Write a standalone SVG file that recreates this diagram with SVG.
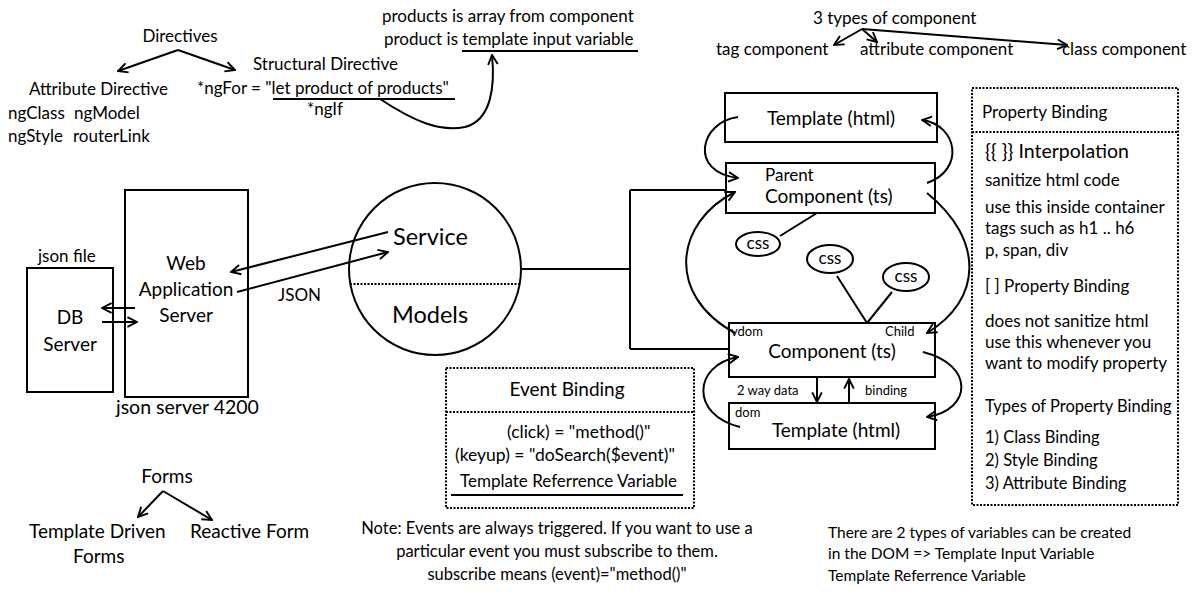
<svg xmlns="http://www.w3.org/2000/svg" width="1200" height="600" viewBox="0 0 1200 600">
<style>
text{font-family:Lato,"Liberation Sans",sans-serif;fill:#000}
.s13{font-size:13px}.s155{font-size:15.5px}.s165{font-size:16.5px}.s17{font-size:17px}.s175{font-size:17.5px}.s19{font-size:19px}.s195{font-size:19.5px}.s23{font-size:23.5px}
.m{text-anchor:middle}
.box{fill:#fff;stroke:#000;stroke-width:2}
.dot{fill:none;stroke:#000;stroke-width:2;stroke-dasharray:2 1.5}
.ln{fill:none;stroke:#000;stroke-width:2}
.ar{fill:none;stroke:#000;stroke-width:2;marker-end:url(#ah)}
</style>
<defs>
<marker id="ah" viewBox="0 0 10 10" refX="9" refY="5" markerWidth="6" markerHeight="6" orient="auto" markerUnits="strokeWidth">
<path d="M1,1 L9,5 L1,9" fill="none" stroke="#000" stroke-width="1.6"/>
</marker>
</defs>
<rect width="1200" height="600" fill="#fff"/>

<g id="directives">
<text class="s17 m" x="180" y="42">Directives</text>
<text class="s17" x="29" y="95">Attribute Directive</text>
<text class="s17" x="8" y="119">ngClass</text>
<text class="s17" x="74" y="119">ngModel</text>
<text class="s17" x="8" y="142">ngStyle</text>
<text class="s17" x="73" y="142">routerLink</text>
<text class="s17" x="253" y="70">Structural Directive</text>
<text class="s17" x="197" y="94">*ngFor = "let product of products"</text>
<text class="s17" x="307" y="115">*ngIf</text>
<text class="s17" x="382" y="22">products is array from component</text>
<text class="s17" x="384" y="45">product is template input variable</text>
</g>

<g id="components-types">
<text class="s17" x="813" y="24">3 types of component</text>
<text class="s17" x="716" y="55">tag component</text>
<text class="s17" x="860" y="55">attribute component</text>
<text class="s17" x="1062" y="55">class component</text>
</g>

<g id="db-server">
<text class="s17" x="38" y="262">json file</text>
<rect class="box" x="27" y="268" width="86" height="124"/>
<text class="s19 m" x="70" y="324">DB</text>
<text class="s19 m" x="70" y="351">Server</text>
</g>

<g id="web-server">
<rect class="box" x="125" y="190" width="123" height="207"/>
<text class="s19 m" x="186" y="270">Web</text>
<text class="s19 m" x="186" y="296">Application</text>
<text class="s19 m" x="186" y="322">Server</text>
<text class="s195" x="116" y="414">json server 4200</text>
</g>

<g id="service">
<circle cx="435" cy="269" r="86" fill="none" stroke="#000" stroke-width="2"/>
<line class="dot" x1="350" y1="284" x2="521" y2="284"/>
<text class="s23" x="393" y="245">Service</text>
<text class="s23" x="392" y="323">Models</text>
</g>

<g id="template-top">
<rect class="box" x="725" y="93" width="212" height="49"/>
<text class="s19 m" x="831" y="125">Template (html)</text>
</g>

<g id="parent-component">
<rect class="box" x="726" y="163" width="209" height="50"/>
<text class="s17" x="765" y="181">Parent</text>
<text class="s19" x="765" y="203">Component (ts)</text>
</g>

<g id="css1">
<ellipse cx="758" cy="244" rx="22" ry="12" fill="#fff" stroke="#000" stroke-width="2"/>
<text class="s17 m" x="758" y="249">css</text>
</g>
<g id="css2">
<ellipse cx="830" cy="259" rx="23" ry="14" fill="#fff" stroke="#000" stroke-width="2"/>
<text class="s17 m" x="830" y="264">css</text>
</g>
<g id="css3">
<ellipse cx="906" cy="277" rx="23" ry="14" fill="#fff" stroke="#000" stroke-width="2"/>
<text class="s17 m" x="906" y="282">css</text>
</g>

<g id="child-component">
<rect class="box" x="729" y="323" width="206" height="54"/>
<text class="s13" x="731" y="336">vdom</text>
<text class="s13" x="885" y="336">Child</text>
<text class="s19 m" x="832" y="358">Component (ts)</text>
</g>

<g id="template-bottom">
<rect class="box" x="729" y="403" width="206" height="46"/>
<text class="s13" x="735" y="417">dom</text>
<text class="s19 m" x="836" y="437">Template (html)</text>
</g>

<g id="property-binding">
<rect class="dot" x="972" y="88" width="206" height="417"/>
<line class="dot" x1="972" y1="132" x2="1178" y2="132"/>
<text class="s17" x="982" y="118">Property Binding</text>
<text class="s195" x="985" y="158">{{ }} Interpolation</text>
<text class="s17" x="985" y="186">sanitize html code</text>
<text class="s17" x="985" y="213">use this inside container</text>
<text class="s17" x="985" y="234">tags such as h1 .. h6</text>
<text class="s17" x="985" y="256">p, span, div</text>
<text class="s17" x="985" y="292">[ ] Property Binding</text>
<text class="s17" x="985" y="327">does not sanitize html</text>
<text class="s17" x="985" y="348">use this whenever you</text>
<text class="s17" x="985" y="369">want to modify property</text>
<text class="s165" x="985" y="412">Types of Property Binding</text>
<text class="s165" x="985" y="443">1) Class Binding</text>
<text class="s165" x="985" y="466">2) Style Binding</text>
<text class="s165" x="985" y="489">3) Attribute Binding</text>
</g>

<g id="event-binding">
<rect class="dot" x="446" y="368" width="248" height="140"/>
<line class="dot" x1="446" y1="412" x2="694" y2="412"/>
<text class="s19 m" x="567" y="396">Event Binding</text>
<text class="s175" x="507" y="438">(click) = "method()"</text>
<text class="s175" x="455" y="461">(keyup) = "doSearch($event)"</text>
<text class="s17" x="460" y="487">Template Referrence Variable</text>
<line class="ln" x1="451" y1="495" x2="683" y2="495"/>
</g>

<g id="note">
<text class="s165 m" x="557" y="534">Note: Events are always triggered. If you want to use a</text>
<text class="s165 m" x="557" y="557">particular event you must subscribe to them.</text>
<text class="s165 m" x="557" y="580">subscribe means (event)="method()"</text>
</g>

<g id="forms">
<text class="s19 m" x="167" y="483">Forms</text>
<text class="s19" x="29" y="538">Template Driven</text>
<text class="s19" x="73" y="563">Forms</text>
<text class="s19" x="190" y="538">Reactive Form</text>
</g>

<g id="variables-note">
<text class="s155" x="828" y="538">There are 2 types of variables can be created</text>
<text class="s155" x="828" y="559">in the DOM =&gt; Template Input Variable</text>
<text class="s155" x="828" y="581">Template Referrence Variable</text>
</g>

<g id="connectors">
<path class="ar" d="M178,50 L118,71"/>
<path class="ar" d="M178,50 L235,70"/>
<line class="ln" x1="273" y1="99" x2="455" y2="99"/>
<line class="ln" x1="462" y1="51" x2="638" y2="51"/>
<path class="ar" d="M380,99 C415,122 440,132 465,127 C492,120 495,85 492,55"/>
<path class="ar" d="M862,29 L834,45"/>
<path class="ar" d="M862,29 L877,42"/>
<path class="ar" d="M862,29 L1067,45"/>
<path class="ar" d="M135,308 L102,308"/>
<path class="ar" d="M102,322 L137,322"/>
<path class="ar" d="M388,232 L231,272"/>
<path class="ar" d="M237,292 L388,252"/>
<text class="s17" x="278" y="301">JSON</text>
<path class="ln" d="M521,269 H630 M630,190 V349 M630,190 H726 M630,349 H729"/>
<path class="ar" d="M738,117 C700,122 688,172 738,178"/>
<path class="ar" d="M927,183 C965,170 958,125 922,120"/>
<path class="ar" d="M735,333 C665,295 675,222 735,192"/>
<path class="ar" d="M927,193 C985,240 982,300 927,333"/>
<path class="ar" d="M740,427 C690,415 693,365 738,357"/>
<path class="ar" d="M923,352 C975,365 972,410 927,417"/>
<line class="ln" x1="780" y1="236" x2="817" y2="213"/>
<line class="ln" x1="837" y1="276" x2="867" y2="323"/>
<line class="ln" x1="892" y1="292" x2="867" y2="323"/>
<path class="ar" d="M817,378 L817,402"/>
<path class="ar" d="M849,403 L849,379"/>
<text class="s13" x="737" y="395">2 way data</text>
<text class="s13" x="865" y="395">binding</text>
<path class="ar" d="M163,491 L138,517"/>
<path class="ar" d="M163,491 L212,520"/>
</g>
</svg>
